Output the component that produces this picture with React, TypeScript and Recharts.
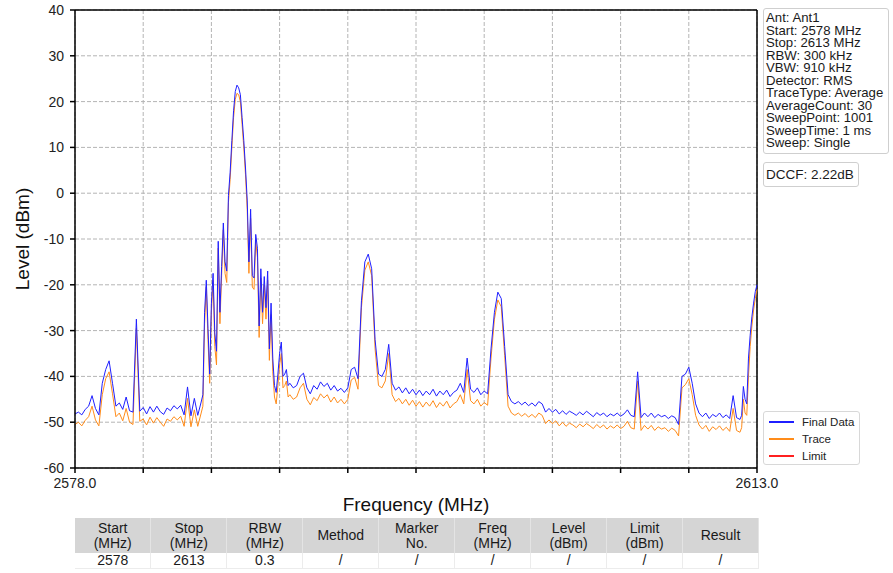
import React from 'react';
import { LineChart, Line, XAxis, YAxis, CartesianGrid, ReferenceLine } from 'recharts';

// sweep segments: coarse in the noise floor, finer around the dense carrier
const startA = 2578.0;
const stepA = 0.175;
const finalA = [
  -48.2, -47.8, -48.4, -47.2, -46.5, -44.2, -47.0, -48.4, -41.5, -38.5,
  -36.6, -41.5, -46.5, -45.8, -47.2, -44.5, -47.5, -47.8, -27.5, -47.6,
  -46.8, -48.2, -46.6, -47.8, -46.5, -47.7, -48.3, -46.9, -47.5, -46.4,
  -47.1, -46.3, -48.4, -42.3, -48.6, -44.8, -48.5, -45.6,
];
const traceA = [
  -50.5, -50.0, -50.8, -49.6, -48.8, -46.5, -49.5, -50.8, -44.0, -40.5,
  -39.0, -43.8, -48.8, -48.0, -49.7, -47.0, -50.0, -50.5, -29.5, -49.8,
  -49.3, -50.6, -48.9, -50.2, -49.0, -50.0, -50.9, -49.3, -49.8, -48.8,
  -49.5, -48.7, -50.9, -44.8, -51.0, -47.3, -50.9, -48.0,
];

const startB = 2584.5625;
const stepB = 0.0875;
const finalB = [
  -44.0, -26.0, -19.0, -29.5, -39.5, -24.0, -17.5, -30.5, -34.5, -10.5,
  -26.0, -16.0, -6.5, -15.0, -17.0, -0.5, 4.6, 11.5, 18.0, 22.2,
  23.6, 23.0, 21.5, 16.5, 11.5, 5.5, -1.5, -15.0, -3.5, -18.0,
  -18.5, -9.0, -12.0, -29.0, -16.5, -26.0, -18.2, -25.0, -17.0, -34.0,
  -24.0, -36.0, -42.0, -43.5, -39.5, -35.0, -32.5, -40.0, -39.5, -38.5,
  -42.0, -41.5,
];
const traceB = [
  -46.5, -28.5, -20.5, -32.0, -41.5, -26.0, -19.0, -33.5, -37.5, -12.0,
  -28.5, -18.0, -8.0, -17.5, -19.5, -2.0, 3.0, 10.0, 16.5, 20.5,
  21.8, 21.5, 20.0, 15.0, 10.0, 4.0, -3.5, -17.5, -5.5, -20.5,
  -21.0, -10.5, -14.0, -31.5, -18.5, -28.5, -20.0, -27.5, -19.0, -36.5,
  -26.5, -39.0, -44.5, -46.0, -42.0, -37.5, -35.0, -42.5, -42.0, -41.0,
  -44.5, -44.0,
];

const startC = 2589.2;
const stepC = 0.175;
const finalC = [
  -42.5, -42.0, -40.0, -39.3, -42.5, -43.8, -42.0, -42.8, -41.2, -42.2,
  -41.5, -43.0, -42.0, -43.2, -42.6, -43.5, -42.5, -38.5, -38.0, -40.5,
  -23.5, -15.0, -13.3, -16.5, -32.0, -39.5, -40.0, -38.5, -33.0, -41.5,
  -43.0, -42.3, -43.6, -42.5, -43.8, -42.8, -44.0, -43.0, -44.2, -43.2,
  -44.0, -42.8, -44.3, -43.2, -44.0, -43.0, -44.4, -43.5, -43.0, -41.5,
  -43.5, -36.0, -42.8, -43.5, -42.5, -44.0, -43.2, -43.8, -34.0, -26.0,
  -21.6, -23.0, -33.5, -44.0, -45.5, -46.0, -45.5, -46.2, -45.6, -46.4,
  -45.8, -46.5, -45.5, -46.0, -47.8, -47.0, -47.8, -47.2, -48.2, -47.5,
  -48.3, -47.6, -48.0, -48.5, -47.8, -48.4, -47.6, -48.2, -48.8, -47.9,
  -48.5, -48.0, -48.8, -48.2, -48.6, -48.0, -48.7, -48.2, -47.3, -48.5,
  -48.8, -39.0, -49.0, -48.0, -48.8, -48.0, -49.0, -48.3, -48.8, -48.5,
  -49.2, -48.6, -49.0, -50.5, -40.0, -39.5, -38.0, -41.5, -46.0, -48.0,
  -48.8, -48.0, -49.2, -48.3, -48.8, -48.0, -49.0, -48.4, -49.2, -44.2,
  -49.0, -49.4,
];
const traceC = [
  -45.0, -44.5, -42.5, -41.5, -45.0, -46.2, -44.6, -45.3, -43.8, -44.7,
  -44.0, -45.6, -44.5, -45.8, -45.0, -46.0, -45.0, -40.8, -40.2, -42.8,
  -25.0, -16.8, -15.0, -18.0, -34.0, -42.0, -42.5, -41.0, -35.0, -44.0,
  -45.5, -44.8, -46.0, -45.0, -46.3, -45.2, -46.5, -45.5, -46.7, -45.6,
  -46.5, -45.3, -46.8, -45.7, -46.5, -45.4, -46.9, -46.0, -45.5, -44.0,
  -46.0, -38.5, -45.3, -46.0, -45.0, -46.5, -45.7, -46.3, -36.0, -27.5,
  -23.3, -24.8, -35.5, -46.5, -48.0, -48.5, -48.0, -48.7, -48.1, -48.9,
  -48.3, -49.0, -48.0, -48.5, -50.3, -49.5, -50.3, -49.7, -50.8, -50.0,
  -50.9, -50.2, -50.6, -51.2, -50.4, -51.0, -50.3, -50.8, -51.4, -50.5,
  -51.2, -50.6, -51.5, -50.8, -51.3, -50.6, -51.4, -50.9, -49.8, -51.2,
  -51.5, -41.0, -51.8, -50.7, -51.5, -50.7, -51.8, -51.0, -51.5, -51.2,
  -52.0, -51.3, -51.8, -53.0, -42.5, -41.8, -40.5, -44.0, -48.5, -50.6,
  -51.5, -50.7, -52.0, -51.0, -51.6, -50.8, -51.8, -51.1, -52.0, -47.0,
  -51.8, -52.2,
];

const startD = 2612.2125;
const stepD = 0.0875;
const finalD = [-48.5, -42.2, -45.0, -46.0, -36.0, -31.0, -27.0, -24.0, -21.5, -20.0];
const traceD = [-51.2, -45.0, -48.0, -48.5, -40.0, -33.5, -29.0, -25.5, -23.0, -21.0];

const xTicks = [2578, 2581.5, 2585, 2588.5, 2592, 2595.5, 2599, 2602.5, 2606, 2609.5, 2613];
const yTicks = [-60, -50, -40, -30, -20, -10, 0, 10, 20, 30, 40];

const infoLines = [
  'Ant: Ant1',
  'Start: 2578 MHz',
  'Stop: 2613 MHz',
  'RBW: 300 kHz',
  'VBW: 910 kHz',
  'Detector: RMS',
  'TraceType: Average',
  'AverageCount: 30',
  'SweepPoint: 1001',
  'SweepTime: 1 ms',
  'Sweep: Single',
];

const tableHead = [
  ['Start', '(MHz)'], ['Stop', '(MHz)'], ['RBW', '(MHz)'], ['Method'], ['Marker', 'No.'],
  ['Freq', '(MHz)'], ['Level', '(dBm)'], ['Limit', '(dBm)'], ['Result'],
];
const tableRow = ['2578', '2613', '0.3', '/', '/', '/', '/', '/', '/'];

const legendItems = [
  { name: 'Final Data', color: '#1f1fff' },
  { name: 'Trace', color: '#ff8c1a' },
  { name: 'Limit', color: '#ff2020' },
];

const segments = [
  { start: startA, step: stepA, finalData: finalA, trace: traceA },
  { start: startB, step: stepB, finalData: finalB, trace: traceB },
  { start: startC, step: stepC, finalData: finalC, trace: traceC },
  { start: startD, step: stepD, finalData: finalD, trace: traceD },
];

const data = segments.flatMap((s) =>
  s.finalData.map((v, k) => ({
    freq: +(s.start + k * s.step).toFixed(4),
    finalData: v,
    trace: s.trace[k],
  }))
);

const FONT = '"Liberation Sans", Arial, Helvetica, sans-serif';

const App: React.FC = () => {
  return (
    <div style={{ position: 'absolute', left: 0, top: 0, width: 893, height: 573, background: '#fff', fontFamily: FONT }}>
      <LineChart
        width={893}
        height={573}
        data={data}
        margin={{ top: 10, right: 136, left: 8, bottom: 75 }}
      >
        <CartesianGrid stroke="#b4b4b4" strokeDasharray="4 2" vertical horizontal />
        <XAxis
          dataKey="freq"
          type="number"
          domain={[2578, 2613]}
          ticks={xTicks}
          interval={0}
          tickFormatter={(v: number) => (v === 2578 || v === 2613 ? v.toFixed(1) : '')}
          height={30}
          tickSize={5}
          tickMargin={5}
          stroke="#000"
          strokeWidth={1.5}
          tick={{ fill: '#222', fontSize: 14, fontFamily: FONT }}
          label={{ value: 'Frequency (MHz)', position: 'bottom', offset: 0, style: { fontSize: 19, fill: '#111', fontFamily: FONT } }}
        />
        <YAxis
          type="number"
          domain={[-60, 40]}
          ticks={yTicks}
          interval={0}
          width={67}
          tickSize={5}
          tickMargin={6}
          stroke="#000"
          strokeWidth={1.5}
          tick={{ fill: '#222', fontSize: 14, fontFamily: FONT }}
          label={{ value: 'Level (dBm)', angle: -90, position: 'insideLeft', offset: 14, style: { fontSize: 19, fill: '#111', fontFamily: FONT, textAnchor: 'middle' } }}
        />
        <ReferenceLine y={40} stroke="#000" strokeWidth={1.5} />
        <ReferenceLine x={2613} stroke="#000" strokeWidth={1.5} />
        <Line type="linear" dataKey="trace" name="Trace" stroke="#ff8c1a" strokeWidth={1} dot={false} isAnimationActive={false} />
        <Line type="linear" dataKey="finalData" name="Final Data" stroke="#1f1fff" strokeWidth={1} dot={false} isAnimationActive={false} />
      </LineChart>

      <div
        style={{
          position: 'absolute', left: 763, top: 411, width: 97, height: 54,
          border: '1px solid #d8d8d8', borderRadius: 3, background: '#fff',
          padding: '2px 0 0 5px', boxSizing: 'border-box', fontSize: 11.5, color: '#222',
        }}
      >
        {legendItems.map((it) => (
          <div key={it.name} style={{ display: 'flex', alignItems: 'center', height: 16.7 }}>
            <span style={{ display: 'inline-block', width: 25, height: 2, background: it.color, marginRight: 8 }} />
            {it.name}
          </div>
        ))}
      </div>

      <div
        style={{
          position: 'absolute', left: 763, top: 8, width: 126, height: 146,
          border: '1px solid #cfcfcf', borderRadius: 3, fontSize: 13.2, lineHeight: '12.5px',
          color: '#1a1a1a', padding: '3px 0 0 2px', boxSizing: 'border-box', whiteSpace: 'nowrap',
        }}
      >
        {infoLines.map((l) => (
          <div key={l}>{l}</div>
        ))}
      </div>
      <div
        style={{
          position: 'absolute', left: 763, top: 162, width: 96, height: 25,
          border: '1px solid #cfcfcf', borderRadius: 3, fontSize: 13.5, lineHeight: '23px',
          color: '#1a1a1a', paddingLeft: 2, boxSizing: 'border-box', whiteSpace: 'nowrap',
        }}
      >
        DCCF: 2.22dB
      </div>

      <table
        style={{
          position: 'absolute', left: 75, top: 518, width: 684, borderCollapse: 'collapse',
          fontSize: 14, color: '#1a1a1a', textAlign: 'center', tableLayout: 'fixed',
        }}
      >
        <tbody>
          <tr style={{ background: '#d5d5d5', height: 35 }}>
            {tableHead.map((h, i) => (
              <td key={i} style={{ lineHeight: '15px', padding: 0, borderRight: '1px solid #e4e4e4' }}>
                {h.map((t) => (
                  <div key={t}>{t}</div>
                ))}
              </td>
            ))}
          </tr>
          <tr style={{ height: 15 }}>
            {tableRow.map((c, i) => (
              <td key={i} style={{ lineHeight: '14px', padding: 0, borderRight: '1px solid #ececec', borderBottom: '1px solid #ececec' }}>
                {c}
              </td>
            ))}
          </tr>
        </tbody>
      </table>
    </div>
  );
};

export default App;
